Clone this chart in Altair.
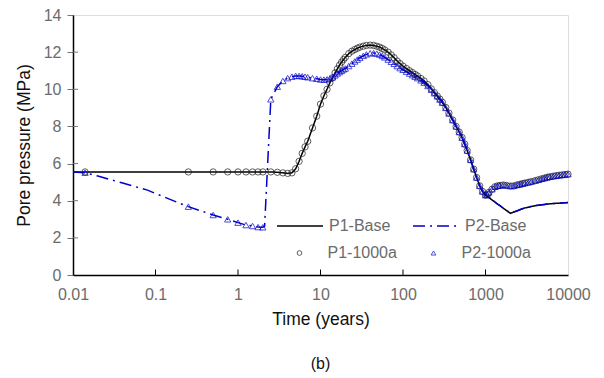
import altair as alt
import pandas as pd

FONT = "Liberation Sans"
GRAY = "#6b6b6b"
BLUE = "#0000cc"

# ---- data ----
early_times = [0.01, 0.014, 0.02, 0.04, 0.08, 0.15, 0.25, 0.5, 0.75, 1, 1.25, 1.5, 1.75, 2, 2.1]
p1_early = [5.55] * 15
p2_early = [5.55, 5.51, 5.33, 4.95, 4.57, 4.07, 3.68, 3.23, 3.0, 2.82, 2.69, 2.64, 2.58, 2.57, 2.62]

mid_times = [2.5, 3, 3.5, 4, 4.5, 5, 5.5, 6, 6.5, 7,
             8, 9, 10, 11, 12, 13, 14, 15, 16, 17, 18, 19, 20,
             22, 24, 26, 28, 30,
             33, 36, 40, 44, 48, 52, 56, 60,
             66, 72, 78, 85, 92, 100,
             110, 120, 130, 140, 150, 165, 180, 200,
             220, 240, 260, 280, 300, 330, 360, 400,
             440, 480, 520, 560, 600, 660, 720, 780, 850, 920, 1000]
p1_mid = [5.55, 5.53, 5.5, 5.47, 5.5, 5.72, 6.12, 6.55, 6.9, 7.2,
          7.92, 8.55, 9.2, 9.65, 10.0, 10.35, 10.62, 10.88, 11.1, 11.3, 11.46, 11.6, 11.72,
          11.92, 12.05, 12.14, 12.21, 12.27,
          12.32, 12.36, 12.38, 12.36, 12.32, 12.27, 12.2, 12.12,
          12.0, 11.85, 11.7, 11.52, 11.38, 11.25,
          11.12, 11.0, 10.9, 10.8, 10.72, 10.58, 10.45, 10.25,
          10.02, 9.82, 9.64, 9.47, 9.3, 9.02, 8.72, 8.35,
          8.0, 7.7, 7.4, 7.05, 6.7, 6.2, 5.7, 5.25, 4.8, 4.5, 4.3]
p2_mid = [9.46, 10.14, 10.45, 10.6, 10.68, 10.72, 10.72, 10.7, 10.68, 10.65,
          10.6, 10.57, 10.53, 10.52, 10.54, 10.58, 10.65, 10.75, 10.85, 10.93, 11.0, 11.07, 11.12,
          11.25, 11.38, 11.5, 11.6, 11.7,
          11.8, 11.88, 11.94, 11.95, 11.92, 11.87, 11.8, 11.72,
          11.6, 11.48, 11.37, 11.25, 11.14, 11.05,
          10.95, 10.85, 10.76, 10.68, 10.6, 10.48, 10.36, 10.18,
          9.98, 9.79, 9.62, 9.45, 9.28, 9.0, 8.7, 8.34,
          8.0, 7.7, 7.4, 7.05, 6.7, 6.2, 5.7, 5.25, 4.8, 4.5, 4.3]

late_times = [1050, 1100, 1200, 1300, 1400, 1500, 1650, 1800, 2000, 2200, 2400, 2600, 2800, 3000,
              3300, 3600, 4000, 4400, 4800, 5200, 5600, 6000, 6600, 7200, 7800, 8500, 9200, 10000]
p1_base_late = [4.23, 4.17, 4.04, 3.93, 3.82, 3.73, 3.59, 3.47, 3.32, 3.39, 3.45, 3.51, 3.57, 3.61,
                3.65, 3.69, 3.73, 3.76, 3.78, 3.8, 3.82, 3.83, 3.85, 3.86, 3.87, 3.88, 3.89, 3.9]
p2_base_late = [4.23, 4.17, 4.04, 3.93, 3.82, 3.73, 3.59, 3.47, 3.32, 3.39, 3.45, 3.51, 3.57, 3.61,
                3.65, 3.69, 3.73, 3.76, 3.78, 3.8, 3.82, 3.83, 3.85, 3.86, 3.87, 3.88, 3.89, 3.9]
p1_1000a_late = [4.33, 4.45, 4.62, 4.75, 4.8, 4.82, 4.85, 4.82, 4.79, 4.8, 4.85, 4.88, 4.92, 4.95,
                 4.99, 5.03, 5.08, 5.13, 5.18, 5.22, 5.26, 5.29, 5.32, 5.35, 5.37, 5.39, 5.41, 5.43]
p2_1000a_late = [4.33, 4.45, 4.62, 4.75, 4.8, 4.82, 4.85, 4.82, 4.79, 4.8, 4.85, 4.88, 4.92, 4.95,
                 4.99, 5.03, 5.08, 5.13, 5.18, 5.22, 5.26, 5.29, 5.32, 5.35, 5.37, 5.39, 5.41, 5.43]

line_only_times = [0.01, 0.02, 0.04, 0.08, 0.15, 2.1]   # line vertices that carry no marker

line_names = ["P1-Base", "P2-Base"]
point_names = ["P1-1000a", "P2-1000a"]
x_ticks = [0.01, 0.1, 1, 10, 100, 1000, 10000]
y_ticks = [0, 2, 4, 6, 8, 10, 12, 14]

# ---- tables ----
times = early_times + mid_times + late_times
p1_base = p1_early + p1_mid + p1_base_late
p2_base = p2_early + p2_mid + p2_base_late

line_rows = []
for name, vals in zip(line_names, [p1_base, p2_base]):
    for t, v in zip(times, vals):
        line_rows.append({"t": t, "p": v, "series": name})
lines_df = pd.DataFrame(line_rows)

pt_rows = []
for name, base, late in zip(point_names, [p1_base, p2_base], [p1_1000a_late, p2_1000a_late]):
    for t, v in zip(times, base):
        if t <= 1000 and t not in line_only_times:
            pt_rows.append({"t": t, "p": v, "series": name})
    for t, v in zip(late_times, late):
        pt_rows.append({"t": t, "p": v, "series": name})
pts_df = pd.DataFrame(pt_rows)

xtick_df = pd.DataFrame({"t": x_ticks[1:-1]})
ytick_df = pd.DataFrame({"p": y_ticks[1:-1]})

xscale = alt.Scale(type="log", domain=[0.01, 10000])
yscale = alt.Scale(domain=[0, 14])

x_axis = alt.Axis(
    values=x_ticks, format="~g", title="Time (years)", ticks=False,
    labelFontSize=16, labelFont=FONT, labelColor=GRAY, labelPadding=11, labelOverlap=False,
    titleFontSize=17.5, titleFont=FONT, titleColor="#111", titleFontWeight="normal", titlePadding=8,
    domainColor="#000", domainWidth=1.5, grid=False, labelFlush=False)
y_axis = alt.Axis(
    values=y_ticks, title="Pore pressure (MPa)", tickSize=6, tickColor="#777", tickWidth=1,
    labelFontSize=16, labelFont=FONT, labelColor=GRAY, labelPadding=6, labelOverlap=False,
    titleFontSize=17.5, titleFont=FONT, titleColor="#111", titleFontWeight="normal", titlePadding=10,
    domainColor="#000", domainWidth=1.5, grid=False)

x_enc = alt.X("t:Q", scale=xscale, axis=x_axis)
y_enc = alt.Y("p:Q", scale=yscale, axis=y_axis)

leg_lines = alt.Legend(title=None, orient="none", legendX=203, legendY=187, direction="horizontal",
                       columns=2, symbolType="stroke", symbolSize=2116, symbolStrokeWidth=1.6,
                       labelFontSize=16, labelFont=FONT, labelColor=GRAY, labelOffset=5,
                       columnPadding=18, padding=0, labelLimit=0)
leg_pts = alt.Legend(title=None, orient="none", legendX=218.5, legendY=230, direction="horizontal",
                     columns=2, symbolSize=22, symbolStrokeWidth=1,
                     labelFontSize=16, labelFont=FONT, labelColor=GRAY, labelOffset=20,
                     columnPadding=28, padding=0, labelLimit=0)

lines = alt.Chart(lines_df).mark_line(strokeWidth=1.5).encode(
    x=x_enc, y=y_enc,
    color=alt.Color("series:N", scale=alt.Scale(domain=line_names, range=["#000000", BLUE]), legend=leg_lines),
    strokeDash=alt.StrokeDash("series:N", scale=alt.Scale(domain=line_names, range=[[1, 0], [12, 5, 2, 5]]),
                              legend=leg_lines),
)

points = alt.Chart(pts_df).mark_point(filled=False, size=40, strokeWidth=1).encode(
    x=x_enc, y=y_enc,
    stroke=alt.Stroke("series:N", scale=alt.Scale(domain=point_names, range=["#1a1a1a", BLUE]), legend=leg_pts),
    shape=alt.Shape("series:N", scale=alt.Scale(domain=point_names, range=["circle", "triangle-up"]),
                    legend=leg_pts),
)

xticks_in = alt.Chart(xtick_df).mark_rule(color="#000", strokeWidth=1).encode(
    x=x_enc, y=alt.value(260), y2=alt.value(254.5))
yticks_in = alt.Chart(ytick_df).mark_rule(color="#777", strokeWidth=1).encode(
    y=y_enc, x=alt.value(0), x2=alt.value(5))

chart = alt.layer(lines, points, xticks_in, yticks_in).properties(
    width=495, height=260,
    autosize=alt.AutoSizeParams(type="none"),
    padding={"left": 73, "top": 15, "right": 36, "bottom": 103},
    title=alt.TitleParams("(b)", orient="bottom", anchor="middle", fontSize=16, font=FONT,
                          fontWeight="normal", color="#111", offset=28),
).configure_view(stroke="#555", strokeWidth=1).configure(background="white")

chart.save("out.html", embed_options={"renderer": "svg", "actions": False})
